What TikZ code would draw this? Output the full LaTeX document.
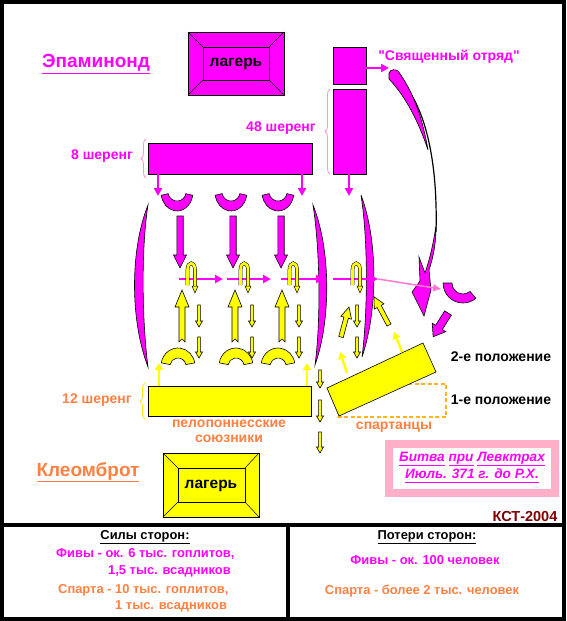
\documentclass[tikz,border=0pt]{standalone}
\usepackage{fontspec}
\setmainfont{Liberation Sans}[Ligatures=TeXOff]
\usetikzlibrary{arrows.meta,decorations.pathreplacing}
\newcommand\Ul[1]{\underline{\vphantom{рд}#1}}
\definecolor{mg}{RGB}{255,0,255}
\definecolor{orng}{RGB}{255,128,64}
\definecolor{dashor}{RGB}{255,180,30}
\definecolor{yel}{RGB}{255,255,0}
\definecolor{pinkbox}{RGB}{255,176,200}
\definecolor{pinkline}{RGB}{255,120,210}
\definecolor{pbrace}{RGB}{255,150,210}
\definecolor{ybrace}{RGB}{255,235,0}
\definecolor{kst}{RGB}{128,0,0}
% block arrow: style, start, canvas angle, length, shaft half, head half, head length
\newcommand\BArr[7]{\draw[#1,shift={(#2)},rotate=#3] (0,-#5) -- ({#4-#7},-#5) -- ({#4-#7},-#6) -- (#4,0) -- ({#4-#7},#6) -- ({#4-#7},#5) -- (0,#5) -- cycle;}
\newcommand\BArrN[7]{\draw[#1,shift={(#2)},rotate=#3] (0,-#5) -- ({#4-#7},-#5) -- ({#4-#7},-#6) -- (#4,0) -- ({#4-#7},#6) -- ({#4-#7},#5) -- (0,#5) -- (3,0) -- cycle;}
\newcommand\YHook[1]{%
  \draw[draw=black, line width=0.5pt, double=yel, double distance=2.6pt] (#1+2.5,285) -- (#1+2.5,270) .. controls (#1+2.5,261) and (#1+10,261) .. (#1+10,270) -- (#1+10,287);
  \draw[fill=yel, draw=black, line width=0.5pt] (#1+7,286) -- (#1+13,286) -- (#1+10,293) -- cycle;}
\begin{document}
\begin{tikzpicture}[x=1pt,y=-1pt,
  mgfill/.style={fill=mg, draw=black, line width=0.6pt},
  ylfill/.style={fill=yel, draw=black, line width=0.6pt},
  mgthin/.style={draw=mg, line width=2.4pt, -{Triangle[length=8pt,width=8pt]}},
  ylthin/.style={draw=yel, line width=2.4pt, -{Triangle[length=7pt,width=8pt]}},
  lbl/.style={font=\bfseries\fontsize{14}{16}\selectfont, inner sep=0pt, align=center},
  camp/.style={font=\bfseries\fontsize{15.5}{17}\selectfont, inner sep=0pt},
  big/.style={font=\bfseries\fontsize{19}{22}\selectfont, inner sep=0pt},
  tbl/.style={font=\bfseries\fontsize{12.9}{15}\selectfont, inner sep=0pt},
  bracedeco/.style={decorate, decoration={brace, amplitude=5pt}, line width=0.8pt}
]
\useasboundingbox (0,0) rectangle (566,621);
\fill[white] (0,0) rectangle (566,621);

% ---------- camps ----------
\draw[mgfill] (188,32) rectangle (284,95);
\draw[mgfill] (203,47) rectangle (269,80);
\draw[line width=0.5pt] (188,32)--(203,47) (284,32)--(269,47) (188,95)--(203,80) (284,95)--(269,80);
\node[camp] (campA) at (236,64) {лагерь};

\draw[ylfill] (163,453) rectangle (259,517);
\draw[ylfill] (178,468) rectangle (245,502);
\draw[line width=0.5pt] (163,453)--(178,468) (259,453)--(245,468) (163,517)--(178,502) (259,517)--(245,502);
\node[camp] (campB) at (211,486) {лагерь};

% ---------- commanders ----------
\node[big, text=mg] (epam) at (96,64) {\Ul{Эпаминонд}};
\node[big, text=orng] (kleo) at (88,472) {\Ul{Клеомброт}};

% ---------- Theban formations ----------
\draw[mgfill] (148,143) rectangle (312,174);
\draw[mgfill] (333,89) rectangle (366,174);
\draw[mgfill] (333,47) rectangle (366,84);
\node[lbl, text=mg] (sacred) at (449,57) {"Священный отряд"};
\coordinate (sbA) at (366,68); \coordinate (sbB) at (389,68);
\draw[mgthin] (sbA) -- (sbB);

\draw[bracedeco, pbrace] (146,178) -- (146,139);
\node[lbl, text=mg] (n8) at (102,156) {8 шеренг};
\draw[bracedeco, pbrace] (330,174) -- (330,89);
\node[lbl, text=mg] (n48) at (281,128) {48 шеренг};

\foreach \x in {158,302,349} {\draw[mgthin] (\x,174) -- (\x,196);}

% magenta cups
\foreach \cx in {177,231,278} {
  \draw[mgfill] (\cx,192) ++(10:16 and 19) arc[start angle=10,end angle=170,x radius=16,y radius=19]
     -- (\cx-8.86,193.6) arc[start angle=170,end angle=10,radius=9] -- cycle;}

% magenta big down arrows
\foreach \x in {180,233,281} {\BArr{mgfill}{\x,216}{-90}{52}{3.2}{6.5}{13}}

% magenta side blades
\draw[mgfill] (148,205) .. controls (130,250) and (130,320) .. (148,367) .. controls (142,320) and (141,250) .. (148,205) -- cycle;
\draw[mgfill] (313,205) .. controls (331,250) and (331,320) .. (315,365) .. controls (321,320) and (320,250) .. (313,205) -- cycle;
\draw[mgfill] (361,195) .. controls (378,240) and (378,310) .. (362,357) .. controls (368,310) and (368,240) .. (361,195) -- cycle;

% sacred band route
\draw[line width=1.2pt] (390,71) .. controls (425,95) and (438,160) .. (436,232);
\draw[mgfill] (389,73) .. controls (391,69) and (395,69) .. (398,71) .. controls (412,90) and (422,115) .. (428,150) .. controls (418,120) and (405,96) .. (389,79) -- cycle;
\draw[mgfill] (436,226) .. controls (436,245) and (433,258) .. (429,270) -- (431,290) -- (424,316) -- (412,292) -- (420,281) -- (419,257) -- (425,273) .. controls (430,258) and (433,245) .. (436,226) -- cycle;
\draw[mgfill] (443,283) arc[start angle=180,end angle=50,radius=20] -- (463+7.07,283+8.43) arc[start angle=50,end angle=180,radius=11] -- cycle;
\BArr{mgfill}{448,313}{-122}{28}{4}{8}{11}

% horizontal magenta arrows
\draw[mgthin] (179,279) -- (223,279);
\draw[mgthin] (227,279) -- (271,279);
\draw[mgthin] (281,279) -- (324,279);
\draw[mgthin] (333,279) -- (378,279);
\coordinate (pkA) at (378,279); \coordinate (pkB) at (441,289);
\draw[pinkline, line width=1.5pt, -{Triangle[length=8pt,width=7pt]}] (pkA) -- (pkB);

% ---------- Spartan side ----------
\draw[dashor, line width=1.5pt, dash pattern=on 4pt off 2.5pt] (338,384) rectangle (446,417);
\draw[ylfill] (327,388) -- (423,343) -- (436,372) -- (339,416) -- cycle;
\node[lbl, text=orng] (spart) at (394,427) {спартанцы};
\node[lbl] (pos2) at (501,357) {2-е положение};
\node[lbl] (pos1) at (501,400) {1-е положение};

\draw[ylfill] (148,386) rectangle (311,416);
\draw[bracedeco, ybrace] (145,419) -- (145,383);
\node[lbl, text=orng] (n12) at (97,400) {12 шеренг};
\node[lbl, text=orng, font=\bfseries\fontsize{14}{15}\selectfont] (allies) at (229,431) {пелопоннесские\\союзники};

\draw[ylthin] (159,386) -- (159,363);
\draw[ylthin] (307,386) -- (307,363);
\draw[ylthin] (347,373) -- (340,352);
\draw[ylthin] (402,352) -- (394,332);

% yellow arches
\foreach \cx in {178,236,278} {
  \draw[ylfill] (\cx,366) ++(190:17 and 18) arc[start angle=190,end angle=350,x radius=17,y radius=18]
     -- (\cx+7.88,364.6) arc[start angle=350,end angle=190,radius=8] -- cycle;}

% yellow big up arrows
\foreach \x in {182,235,282} {\BArrN{ylfill}{\x,342}{90}{52}{3}{7}{17}}
\BArr{ylfill}{341,337}{75}{31}{2.3}{5.5}{11}
\BArr{ylfill}{389,325}{118}{32}{2.3}{5.5}{11}

% small yellow down arrows
\foreach \x in {199,252,299,357} {
  \BArr{ylfill}{\x,305}{-90}{22}{1.4}{3.5}{6}
  \BArr{ylfill}{\x,337}{-90}{21}{1.4}{3.5}{6}
}
\BArr{ylfill}{320,370}{-90}{18}{1.4}{3.5}{6}
\BArr{ylfill}{320,400}{-90}{22}{1.4}{3.5}{6}
\BArr{ylfill}{320,432}{-90}{21}{1.4}{3.5}{6}

% yellow hooks
\foreach \x in {185,238,287,350} {\YHook{\x}}

% ---------- title box ----------
\draw[pinkbox, line width=8pt] (389,444) rectangle (555,493);
\node[font=\bfseries\itshape\fontsize{13.6}{17}\selectfont, text=mg, align=center, inner sep=0pt] (title) at (472,467)
  {\Ul{Битва} \Ul{при} \Ul{Левктрах}\\\Ul{Июль. 371 г. до Р.Х.}};
\node[lbl, text=kst, font=\bfseries\fontsize{14.5}{16}\selectfont] (kst) at (525,517) {КСТ-2004};

% ---------- table ----------
\node[tbl] (h1) at (145,537) {\Ul{Силы сторон:}};
\node[tbl, text=mg, anchor=west] (f1) at (56,554) {Фивы - ок. 6 тыс. гоплитов,};
\node[tbl, text=mg, anchor=west] (f2) at (108,571) {1,5 тыс. всадников};
\node[tbl, text=orng, anchor=west] (s1) at (58,590) {Спарта - 10 тыс. гоплитов,};
\node[tbl, text=orng, anchor=west] (s2) at (115,606) {1 тыс. всадников};
\node[tbl] (h2) at (427,537) {\Ul{Потери сторон:}};
\node[tbl, text=mg] (f3) at (425,560) {Фивы - ок. 100 человек};
\node[tbl, text=orng] (s3) at (422,591) {Спарта - более 2 тыс. человек};

% ---------- frame ----------
\draw[line width=4pt] (2,2) rectangle (564,619);
\draw[line width=4pt] (2,525) -- (564,525);
\draw[line width=4pt] (288,525) -- (288,619);
\end{tikzpicture}
\end{document}
